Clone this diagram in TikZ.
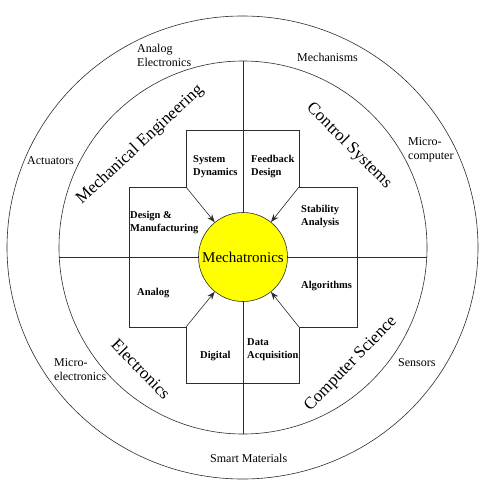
\documentclass[tikz,border=0pt]{standalone}
\usepackage{fontspec}
\setmainfont{Liberation Serif}
\usetikzlibrary{arrows.meta}
\tikzstyle{pixelGrid} = [x = 1pt, y = -1pt]
\definecolor{lineColor}{RGB}{45,45,45}
\definecolor{coreColor}{RGB}{255,255,0}
\tikzstyle{ringLine} = [color=lineColor, line width=.6pt]
\tikzstyle{coreStyle} = [circle, draw=lineColor, fill=coreColor, line width=.6pt, minimum size=89pt, inner sep=0pt, font=\fontsize{15}{18}\selectfont]
\tikzstyle{topicText} = [anchor=west, align=left, inner sep=0pt, font=\bfseries\fontsize{10.5}{13}\selectfont]
\tikzstyle{fieldText} = [anchor=west, align=left, inner sep=0pt, font=\fontsize{12}{14}\selectfont]
\tikzstyle{areaText} = [inner sep=0pt, font=\fontsize{17}{20}\selectfont]
\tikzstyle{feedArrow} = [ringLine, -{Stealth[length=8pt, width=6pt]}]
\newcommand{\topic}[4]{\node [topicText] (#1) at (#2, #3) {#4};}
\newcommand{\field}[4]{\node [fieldText] (#1) at (#2, #3) {#4};}
\newcommand{\area}[5]{\node [areaText, rotate=#4] (#1) at (#2, #3) {#5};}

\begin{document}
\begin{tikzpicture}[pixelGrid]
  \useasboundingbox [fill=white] (0,0) rectangle (486,486);

  % rings
  \draw [ringLine] (242.5,247.5) ellipse [x radius=235.5, y radius=231.5];
  \draw [ringLine] (243,247.5) ellipse [x radius=184, y radius=186.5];

  % plus shaped frame
  \draw [ringLine] (186,130) -- (299,130) -- (299,187) -- (357,187) -- (357,327)
    -- (299,327) -- (299,383) -- (186,383) -- (186,327) -- (129,327)
    -- (129,187) -- (186,187) -- cycle;
  \coordinate (cornerNW) at (186,187);
  \coordinate (cornerNE) at (299,187);
  \coordinate (cornerSW) at (186,327);
  \coordinate (cornerSE) at (299,327);

  % spokes
  \coordinate (spokeN) at (243,61);
  \coordinate (spokeS) at (243,434);
  \coordinate (spokeW) at (59.2,257);
  \coordinate (spokeE) at (426.8,257);
  \node [coreStyle] (core) at (243,257) {Mechatronics};
  \draw [ringLine] (spokeN) -- (core);
  \draw [ringLine] (spokeS) -- (core);
  \draw [ringLine] (spokeW) -- (core);
  \draw [ringLine] (spokeE) -- (core);

  \foreach \corner in {cornerNW, cornerNE, cornerSW, cornerSE}
    \draw [feedArrow] (\corner) -- (core);

  % inner topics
  \topic{sysDyn}{193}{166.5}{System\\Dynamics}
  \topic{feedDesign}{251}{166.5}{Feedback\\Design}
  \topic{designMan}{130}{222.5}{Design \&\\Manufacturing}
  \topic{stability}{301}{216.5}{Stability\\Analysis}
  \topic{analog}{137}{293}{Analog}
  \topic{algorithms}{301}{286}{Algorithms}
  \topic{digital}{200}{356}{Digital}
  \topic{dataAcq}{247}{349.5}{Data\\Acquisition}

  % disciplines
  \area{mechEng}{140}{145}{43}{Mechanical Engineering}
  \area{control}{349}{146}{-45}{Control Systems}
  \area{electronics}{141}{369}{-46}{Electronics}
  \area{compSci}{351}{364}{46}{Computer Science}

  % outer ring fields
  \field{analogEl}{137}{55}{Analog\\Electronics}
  \field{mechanisms}{297}{57}{Mechanisms}
  \field{microComp}{408}{150}{Micro-\\computer}
  \field{actuators}{27}{161}{Actuators}
  \field{microEl}{54}{370}{Micro-\\electronics}
  \field{sensors}{398}{363}{Sensors}
  \field{smartMat}{210}{458}{Smart Materials}
\end{tikzpicture}
\end{document}
